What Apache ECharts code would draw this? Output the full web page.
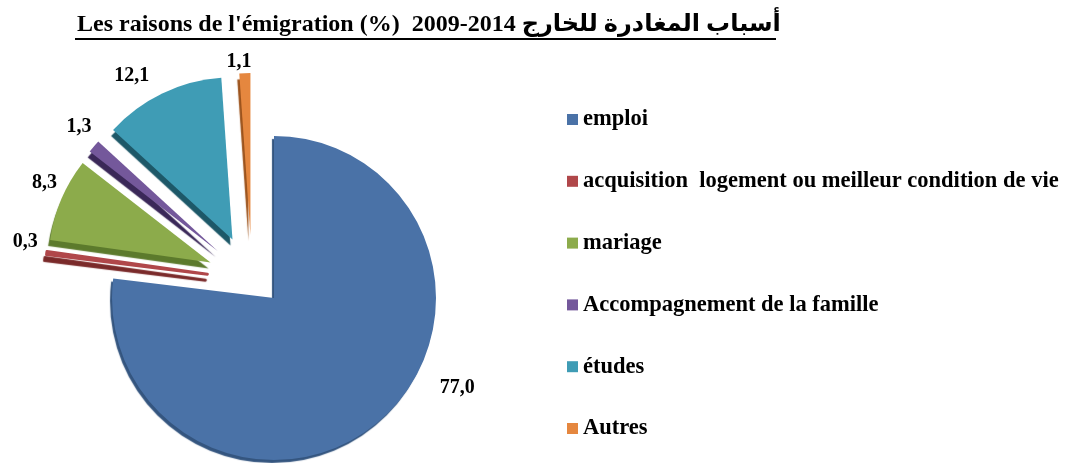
<!DOCTYPE html>
<html>
<head>
<meta charset="utf-8">
<script src="https://cdn.jsdelivr.net/npm/echarts@6/dist/echarts.min.js"></script>
<style>
  html, body { margin: 0; padding: 0; background: #fff; }
  #chart { width: 1066px; height: 463px; }
</style>
</head>
<body>
<div id="chart"></div>
<script>
// raisons de l'émigration
var categories = ['emploi', 'acquisition  logement ou meilleur condition de vie', 'mariage',
    'Accompagnement de la famille', 'études', 'Autres'];
var values = [77.0, 0.3, 8.3, 1.3, 12.1, 1.1];
var colors = ['#4a72a7', '#b0474a', '#8cab4b', '#74589b', '#3f9cb5', '#e5873f'];
var edges = ['#34557f', '#7a2a2a', '#5c7a2c', '#3a2858', '#1d5868', '#9c531c'];

var serif = "'Liberation Serif', 'DejaVu Sans', serif";

// petits decalages des etiquettes (comme sur l'original)
var labelShift = [[48, -37], [-1, -10], [3, -13], [4, -14], [1, -16], [12, -3]];

var myChart = echarts.init(document.getElementById('chart'));

// une serie pour "emploi", une autre pour les parts detachees
function pieData(main) {
    return categories.map(function (c, i) {
        var shown = main ? i === 0 : i > 0;
        return {
            name: c,
            value: values[i],
            selected: !main && i > 0,
            label: { show: shown },
            itemStyle: shown ? {
                color: colors[i],
                shadowColor: edges[i],
                borderColor: colors[i],
                borderWidth: i === 1 ? 3 : 0,
                shadowOffsetY: i === 0 ? 3 : 6
            } : { color: 'rgba(0,0,0,0)', shadowColor: 'rgba(0,0,0,0)' }
        };
    });
}

var pieBase = {
    type: 'pie',
    radius: 162,
    startAngle: 90,
    silent: true,
    label: {
        position: 'outside',
        fontFamily: serif,
        fontWeight: 'bold',
        fontSize: 20,
        color: '#000',
        formatter: function (p) {
            return p.value.toFixed(1).replace('.', ',');
        }
    },
    labelLine: { show: false, length: 8, length2: 0 },
    labelLayout: function (p) {
        var s = labelShift[p.dataIndex];
        return { dx: s[0], dy: s[1] };
    },
    itemStyle: {
        shadowBlur: 1,
        shadowOffsetX: -2,
        shadowOffsetY: 5
    }
};

option = {
    backgroundColor: '#ffffff',
    title: {
        text: "Les raisons de l'émigration (%)  2009-2014 أسباب المغادرة للخارج",
        left: 72,
        top: 8,
        textStyle: {
            fontFamily: serif,
            fontWeight: 'bold',
            fontSize: 24,
            color: '#000'
        }
    },
    graphic: [{
        type: 'line',
        shape: { x1: 75, y1: 39, x2: 776, y2: 39 },
        style: { stroke: '#000', lineWidth: 2 }
    }],
    legend: {
        orient: 'vertical',
        left: 562,
        top: 103,
        itemWidth: 11,
        itemHeight: 11,
        itemGap: 38.8,
        icon: 'rect',
        itemStyle: { borderWidth: 0, shadowBlur: 0, shadowOffsetX: 0, shadowOffsetY: 0 },
        data: categories.map(function (c, i) {
            return { name: c, itemStyle: { color: colors[i] } };
        }),
        textStyle: {
            fontFamily: serif,
            fontWeight: 'bold',
            fontSize: 22.5,
            color: '#000'
        }
    },
    series: [
        echarts.util.merge({
            center: [274, 298],
            data: pieData(true)
        }, pieBase),
        echarts.util.merge({
            center: [252, 280],
            selectedMode: 'multiple',
            selectedOffset: 45,
            data: pieData(false)
        }, pieBase)
    ]
};

myChart.setOption(option);
</script>
</body>
</html>
